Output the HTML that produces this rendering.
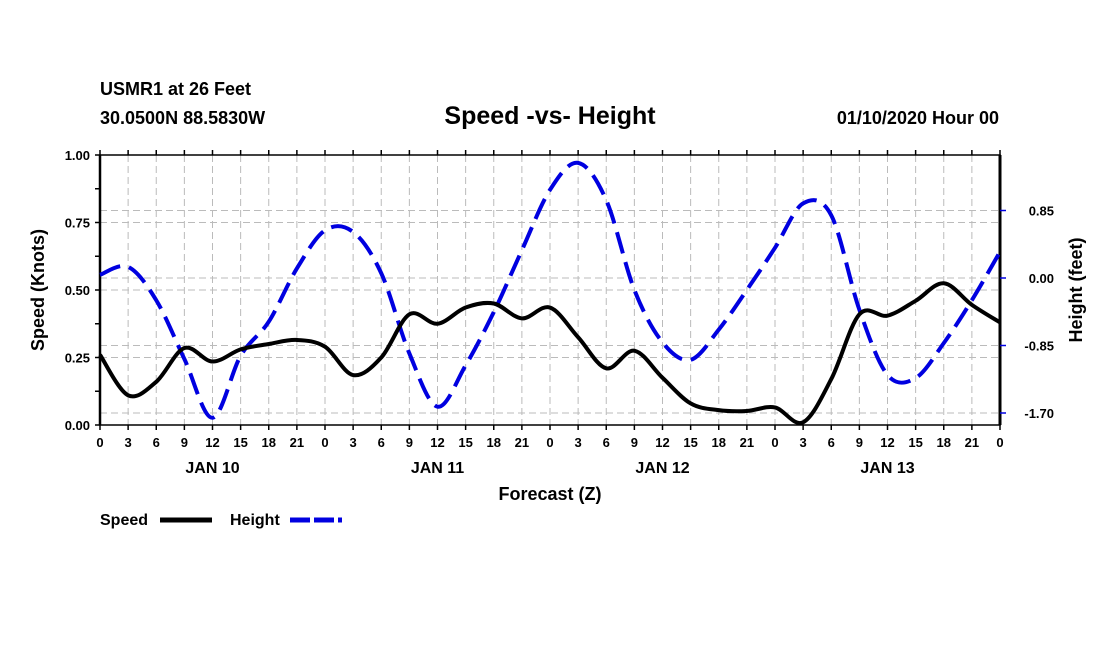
<!DOCTYPE html>
<html><head><meta charset="utf-8"><style>
body{margin:0;background:#fff;width:1100px;height:650px;overflow:hidden}
text{font-family:"Liberation Sans",sans-serif;font-weight:bold;fill:#000}
</style></head><body>
<svg id="chart" width="1100" height="650" xmlns="http://www.w3.org/2000/svg">
<text x="100" y="95" font-size="18">USMR1 at 26 Feet</text>
<text x="100" y="124" font-size="18">30.0500N 88.5830W</text>
<text x="550" y="124" font-size="25" text-anchor="middle">Speed -vs- Height</text>
<text x="999" y="124" font-size="18" text-anchor="end">01/10/2020 Hour 00</text>
<g id="grid"></g><g id="axes"></g><g id="series"></g>
<text x="550" y="500" font-size="18" text-anchor="middle">Forecast (Z)</text>
<text transform="translate(44,290) rotate(-90)" font-size="18" text-anchor="middle">Speed (Knots)</text>
<text transform="translate(1082,290) rotate(-90)" font-size="18" text-anchor="middle">Height (feet)</text>
<g>
<text x="100" y="525" font-size="16">Speed</text>
<line x1="160" y1="520" x2="212" y2="520" stroke="#000" stroke-width="5"/>
<text x="230" y="525" font-size="16">Height</text>
<line x1="290" y1="520" x2="342" y2="520" stroke="#0000e0" stroke-width="5" stroke-dasharray="20 4"/>
</g>
</svg>
<script>
const hours=[0,3,6,9,12,15,18,21,24,27,30,33,36,39,42,45,48,51,54,57,60,63,66,69,72,75,78,81,84,87,90,93,96];
const speed=[0.26,0.11,0.16,0.285,0.235,0.28,0.30,0.315,0.29,0.185,0.25,0.41,0.375,0.435,0.45,0.395,0.435,0.325,0.21,0.275,0.175,0.08,0.055,0.052,0.065,0.01,0.17,0.41,0.405,0.46,0.525,0.445,0.38];
const height=[0.04,0.14,-0.28,-1.02,-1.76,-0.98,-0.55,0.12,0.60,0.58,0.06,-0.95,-1.62,-1.10,-0.43,0.35,1.11,1.45,0.98,-0.15,-0.81,-1.03,-0.65,-0.15,0.38,0.94,0.79,-0.40,-1.22,-1.26,-0.82,-0.28,0.33];
const xTickLabels=["0","3","6","9","12","15","18","21"];
const dayLabels=["JAN 10","JAN 11","JAN 12","JAN 13"];
const leftTicks=[0,0.25,0.5,0.75,1.0];
const rightTicks=[-1.70,-0.85,0,0.85];
const L=100,R=1000,T=155,B=425;
const xs=h=>L+(h/96)*(R-L);
const yL=v=>B-v/1.0*(B-T);
const yR=v=>278-v/0.85*67.5;
const NS="http://www.w3.org/2000/svg";
function mk(p,tag,at){const e=document.createElementNS(NS,tag);for(const k in at)e.setAttribute(k,at[k]);p.appendChild(e);return e;}
const grid=document.getElementById('grid'),axes=document.getElementById('axes'),ser=document.getElementById('series');
for(let h=3;h<96;h+=3){const l=mk(grid,'line',{x1:xs(h),x2:xs(h),y1:T,y2:B,stroke:'#bbb','stroke-width':1,'stroke-dasharray':'7 4'});

}
leftTicks.forEach(v=>{if(v>0&&v<1){const l=mk(grid,'line',{x1:L,x2:R,y1:yL(v),y2:yL(v),stroke:'#bbb','stroke-width':1,'stroke-dasharray':'7 4'});

}});
rightTicks.forEach(v=>{const l=mk(grid,'line',{x1:L,x2:R,y1:yR(v),y2:yR(v),stroke:'#bbb','stroke-width':1,'stroke-dasharray':'7 4'});

});
const fr=mk(axes,'path',{d:`M${L} ${T}H${R}V${B}H${L}Z`,fill:'none',stroke:'#000','stroke-width':1.5});


mk(axes,'line',{x1:L,x2:L,y1:T,y2:B,stroke:'#000','stroke-width':2.5});
mk(axes,'line',{x1:R,x2:R,y1:T,y2:B,stroke:'#000','stroke-width':3});
for(let h=0;h<=96;h+=3){const x=xs(h);
mk(axes,'line',{x1:x,x2:x,y1:B,y2:B+5,stroke:'#000','stroke-width':1.5});
mk(axes,'line',{x1:x,x2:x,y1:T,y2:T-5,stroke:'#000','stroke-width':1.5});
const t=mk(axes,'text',{x:x,y:B+22,'font-size':13,'text-anchor':'middle'});t.textContent=xTickLabels[(h/3)%8];

}
dayLabels.forEach((d,i)=>{const t=mk(axes,'text',{x:xs(i*24+12),y:B+48,'font-size':16,'text-anchor':'middle'});t.textContent=d;

});
for(let v=0;v<=1.0001;v+=0.125){mk(axes,'line',{x1:L-5,x2:L,y1:yL(v),y2:yL(v),stroke:'#000','stroke-width':1.5});}
leftTicks.forEach(v=>{const t=mk(axes,'text',{x:L-10,y:yL(v)+5,'font-size':13,'text-anchor':'end'});t.textContent=v.toFixed(2);

});
rightTicks.forEach(v=>{mk(axes,'line',{x1:R,x2:R+6,y1:yR(v),y2:yR(v),stroke:'#0000e0','stroke-width':1.5});
const t=mk(axes,'text',{x:R+54,y:yR(v)+5,'font-size':13,'text-anchor':'end'});t.textContent=v.toFixed(2);

});
function smooth(pts){let d=`M${pts[0][0]} ${pts[0][1]}`;for(let i=0;i<pts.length-1;i++){const p0=pts[Math.max(0,i-1)],p1=pts[i],p2=pts[i+1],p3=pts[Math.min(pts.length-1,i+2)];
d+=`C${p1[0]+(p2[0]-p0[0])/6} ${p1[1]+(p2[1]-p0[1])/6} ${p2[0]-(p3[0]-p1[0])/6} ${p2[1]-(p3[1]-p1[1])/6} ${p2[0]} ${p2[1]}`;}return d;}
const hp=mk(ser,'path',{d:smooth(hours.map((h,i)=>[xs(h),yR(height[i])])),fill:'none',stroke:'#0000e0','stroke-width':4,'stroke-dasharray':'22 9'});


const sp=mk(ser,'path',{d:smooth(hours.map((h,i)=>[xs(h),yL(speed[i])])),fill:'none',stroke:'#000','stroke-width':4});


</script>
</body></html>
